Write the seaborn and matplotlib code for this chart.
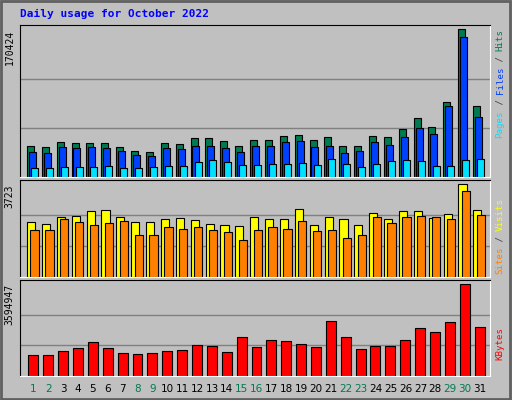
import numpy as np
import matplotlib
matplotlib.use('Agg')
import matplotlib.pyplot as plt
import seaborn as sns

days = list(range(1, 32))
weekend = [1, 2, 8, 9, 15, 16, 22, 23, 29, 30]

hits = [36250, 35090, 40870, 39720, 39720, 39720, 35090, 30460, 29300, 39720,
        38560, 45500, 45500, 42030, 36250, 43190, 43190, 47810, 48970, 43190,
        46660, 36250, 36250, 47810, 46660, 55910, 68640, 58230, 85990, 170424, 81360]
files = [29300, 28150, 35090, 33930, 35090, 33930, 30460, 25840, 24680, 33930,
         32780, 36250, 36250, 33930, 29300, 36250, 36250, 40870, 42030, 35090,
         36250, 28150, 30460, 40870, 37400, 46660, 57070, 50130, 81360, 161180, 69790]
pages = [10800, 10800, 11950, 11950, 11950, 13110, 10800, 10800, 11950, 13110,
         13110, 17740, 20050, 17740, 14270, 14270, 15420, 15420, 16580, 14270,
         21210, 15420, 11950, 15420, 18890, 20050, 18890, 13110, 13110, 20050, 21210]
sites = [2200, 2130, 2420, 2460, 2650, 2690, 2420, 2200, 2200, 2310,
         2380, 2270, 2130, 2090, 2050, 2420, 2340, 2310, 2740, 2090,
         2420, 2310, 2090, 2580, 2340, 2650, 2650, 2380, 2530, 3723, 2690]
visits = [1880, 1880, 2310, 2200, 2090, 2160, 2230, 1670, 1670, 1990,
          1910, 1990, 1880, 1800, 1470, 1880, 2020, 1910, 2230, 1830,
          1880, 1550, 1670, 2420, 2160, 2420, 2460, 2420, 2340, 3440, 2500]
kbytes = [830000, 830000, 990000, 1100000, 1340000, 1100000, 910000, 870000, 910000, 990000,
          1030000, 1220000, 1180000, 950000, 1540000, 1140000, 1420000, 1380000, 1260000, 1140000,
          2170000, 1540000, 1070000, 1180000, 1180000, 1420000, 1900000, 1740000, 2100000, 3594947, 1940000]

BG = '#C0C0C0'
MONO = 'DejaVu Sans Mono'
W, H = 512, 400

fig = plt.figure(figsize=(5.12, 4.0), dpi=100, facecolor=BG)
d = np.array(days, dtype=float)


def axes_px(x0, y0, x1, y1):
    return fig.add_axes([x0 / W, 1 - y1 / H, (x1 - x0) / W, (y1 - y0) / H])


def bars(ax, offset, vals, color, width):
    sns.barplot(x=d + offset, y=vals, native_scale=True, width=width, color=color,
                edgecolor='black', linewidth=0.8, saturation=1, ax=ax)


def style(ax, vmax, frac, label):
    ax.set_facecolor(BG)
    ax.set_xlim(0.1, 31.7)
    ax.set_ylim(0, vmax * frac)
    for g in (1 / 3, 2 / 3):
        ax.axhline(vmax * g, color='#808080', linewidth=1, zorder=0)
    ax.set_xticks([])
    ax.set_yticks([])
    ax.set_xlabel('')
    ax.set_ylabel('')
    for s in ('left', 'top'):
        ax.spines[s].set_color('black')
    for s in ('right', 'bottom'):
        ax.spines[s].set_color('white')
    ax.text(-0.022, 1 - (frac - 1) / frac, label, transform=ax.transAxes, rotation=90,
            ha='center', va='top', fontsize=7, family=MONO)


def side_label(ytop_px, parts):
    # parts listed from the top down: (text, colour)
    step = 5.4
    y = ytop_px
    for txt, col in parts:
        fig.text(500 / W, 1 - y / H, txt, rotation=90, ha='center', va='top',
                 fontsize=6.6, family=MONO, color=col)
        y += step * len(txt)


ax1 = axes_px(20, 25, 490, 177)
bars(ax1, -0.2, hits, '#007A50', 0.47)
bars(ax1, -0.07, files, '#0040FF', 0.47)
bars(ax1, 0.07, pages, '#00E0FF', 0.47)
style(ax1, max(hits), 152 / 147.7, str(max(hits)))

ax2 = axes_px(20, 180, 490, 277)
bars(ax2, -0.15, sites, '#FFFF00', 0.55)
bars(ax2, 0.08, visits, '#FF8000', 0.55)
style(ax2, max(sites), 96.7 / 92.4, str(max(sites)))

ax3 = axes_px(20, 280, 490, 376)
bars(ax3, 0.0, kbytes, '#FF0000', 0.67)
style(ax3, max(kbytes), 95.3 / 91, str(max(kbytes)))

for dd in days:
    fig.text((33.3 + (dd - 1) * 14.89) / W, 1 - 389 / H, str(dd), ha='center', va='center',
             fontsize=7.5, color='#007A50' if dd in weekend else 'black')

side_label(29, [('Hits', '#007A50'), (' / ', '#404040'), ('Files', '#0040FF'),
                (' / ', '#404040'), ('Pages', '#00E0FF')])
side_label(198, [('Visits', '#FFFF00'), (' / ', '#404040'), ('Sites', '#FF8000')])
side_label(327, [('KBytes', '#FF0000')])

fig.text(20 / W, 1 - 14 / H, 'Daily usage for October 2022', ha='left', va='center',
         fontsize=8, family=MONO, fontweight='bold', color='#0000FF')

# outer bevel frame
frame = plt.Rectangle((0.002, 0.003), 0.995, 0.994, transform=fig.transFigure,
                      fill=False, edgecolor='#606060', linewidth=2)
fig.patches.append(frame)

fig.savefig('out.png', dpi=100, facecolor=BG)
